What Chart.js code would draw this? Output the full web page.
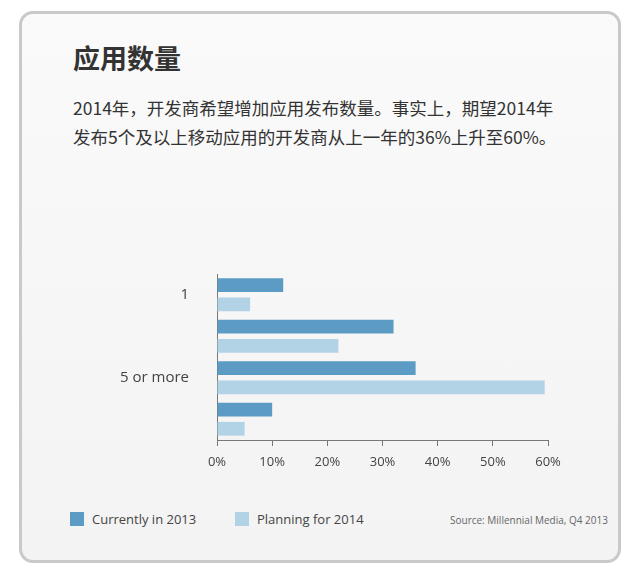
<!DOCTYPE html>
<html><head><meta charset="utf-8">
<script src="https://cdn.jsdelivr.net/npm/chart.js@4"></script>
<style>
body{margin:0;background:#fff;font-family:"Open Sans","Noto Sans CJK SC",sans-serif;}
#card{position:absolute;left:19px;top:11px;width:596px;height:546px;border:3px solid #c9c9c9;border-radius:14px;background:linear-gradient(#fafafa,#f3f3f3);}
#title{position:absolute;left:73px;top:38px;font-size:27px;font-weight:bold;color:#333;font-family:"Noto Sans CJK SC",sans-serif;}
#desc{position:absolute;left:73px;top:93px;font-size:17.5px;line-height:29px;color:#333;font-family:"Noto Sans CJK SC",sans-serif;}
#wrap{position:absolute;left:20px;top:230px;width:560px;height:250px;}
.leg{position:absolute;top:510px;font-size:13px;color:#444;}
.sw{display:inline-block;width:14px;height:14px;vertical-align:-2px;margin-right:8px;}
#src{position:absolute;left:450px;top:513px;font-size:10px;color:#666;}
</style></head><body>
<div id="card"></div>
<div id="title">应用数量</div>
<div id="desc">2014年，开发商希望增加应用发布数量。事实上，期望2014年<br>发布5个及以上移动应用的开发商从上一年的36%上升至60%。</div>
<div id="wrap"><canvas id="c"></canvas></div>
<div class="leg" style="left:70px"><span class="sw" style="background:#5b9bc4"></span>Currently in 2013</div>
<div class="leg" style="left:235px"><span class="sw" style="background:#b2d2e6"></span>Planning for 2014</div>
<div id="src">Source: Millennial Media, Q4 2013</div>
<script>
const categories = ["1", "2-4", "5 or more", ["无，但是当前正", "在开发移动应用"]];
const current2013 = [12, 32, 36, 10];
const planning2014 = [6, 22, 59.4, 5];
const xTicks = [0, 10, 20, 30, 40, 50, 60];

new Chart("c", {
  type: "bar",
  data: {
    labels: categories,
    datasets: [
      {label: "Currently in 2013", data: current2013, backgroundColor: "#5b9bc4", barPercentage: 0.72, categoryPercentage: 0.92},
      {label: "Planning for 2014", data: planning2014, backgroundColor: "#b2d2e6", barPercentage: 0.72, categoryPercentage: 0.92}
    ]
  },
  options: {
    indexAxis: "y",
    responsive: true,
    maintainAspectRatio: false,
    animation: false,
    layout: {padding: {right: 32, top: 5}},
    plugins: {legend: {display: false}, tooltip: {enabled: false}},
    scales: {
      x: {
        min: 0, max: 60,
        afterBuildTicks: s => { s.ticks = xTicks.map(v => ({value: v})); },
        afterFit: s => { s.height = 40; },
        ticks: {callback: v => v + "%", color: "#444", font: {size: 13, family: "Open Sans"}, padding: 8},
        grid: {display: true, drawOnChartArea: false, tickLength: 6, color: "#777", lineWidth: 1},
        border: {display: true, color: "#777", dash: [2, 3]}
      },
      y: {
        afterFit: s => { s.width = 197; },
        ticks: {color: "#444", font: {size: 15, family: "Open Sans, Noto Sans CJK SC", lineHeight: 1.6}, padding: 20},
        grid: {display: false},
        border: {display: true, color: "#777", dash: [2, 3]}
      }
    }
  }
});
</script>
</body></html>
